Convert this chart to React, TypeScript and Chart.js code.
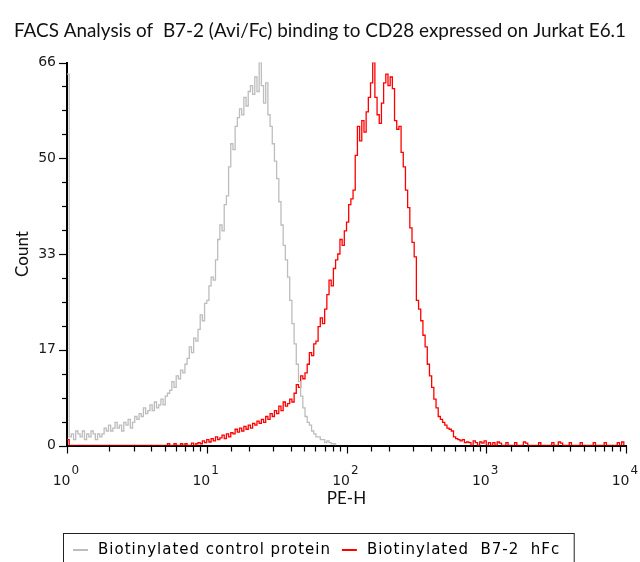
import React, { useEffect, useRef } from 'react';
import { Chart, registerables } from 'chart.js';

Chart.register(...registerables);

const TITLE = 'FACS Analysis of  B7-2 (Avi/Fc) binding to CD28 expressed on Jurkat E6.1';
const X_AXIS_TITLE = 'PE-H';
const Y_AXIS_TITLE = 'Count';
const SERIES_LABELS = ['Biotinylated control protein', 'Biotinylated  B7-2  hFc'];
const SERIES_COLORS = ['#bdbdbd', '#ff0000'];
const X_DECADE_EXPONENTS = [0, 1, 2, 3, 4];
const Y_MAJOR_VALUES = [0, 16.5, 33, 49.5, 66];
const Y_MAJOR_LABELS = ['0', '17', '33', '50', '66'];
const Y_MINOR_PER_MAJOR = 4;
const CHANNELS_PER_DECADE = 64;

// Counts per histogram channel (channel 0 = 10^0), control protein
const CONTROL_COUNTS = [
  64,
  1.5, 2, 1, 2.5, 2, 1.5, 2.5, 1, 2, 1.5, 2.5, 2, 1, 2, 1.5,
  2, 3, 2.5, 3.5, 2.5, 3, 4, 3, 3.5, 2.5, 4, 3.5, 4.5, 3, 4, 5,
  4.5, 5.5, 5, 6.5, 5.5, 6, 7, 6, 7.5, 6.5, 7, 8, 7, 8.5, 9,
  9.5, 11, 10, 12, 11.5, 13, 12.5, 14,
  15, 17, 16, 18.5, 18,
  20, 22.5, 21.5, 24.5, 25,
  27.5, 29, 28.5, 32,
  35.5, 38, 37, 41.5, 43,
  48, 52, 51, 55,
  56.5, 58, 57, 60, 58.5, 61,
  62, 60.5, 63.5, 61, 66,
  62, 59, 62.5, 57,
  55, 52, 49, 46, 42, 38, 34.5, 32, 29, 25, 21, 17.5, 14, 11, 8.5, 6.5, 5, 4, 3.5, 2.5,
  2, 1.5, 1.5, 1, 1, 0.5, 0.8, 0.5, 0.3, 0.3, 0,
];

// Counts per histogram channel, biotinylated B7-2 hFc
const B72_COUNTS = [
  1,
  0, 0, 0, 0, 0, 0, 0, 0, 0, 0, 0,
  0, 0, 0, 0, 0, 0, 0, 0, 0, 0, 0,
  0, 0, 0, 0, 0, 0, 0, 0, 0, 0, 0,
  0, 0, 0, 0, 0, 0, 0, 0, 0, 0, 0,
  0, 0.3, 0, 0, 0.3, 0, 0, 0.3, 0, 0.3, 0, 0, 0.4, 0, 0.3,
  0.5, 0.3, 0.8, 0.5, 1, 0.6, 1.2, 0.8, 1.5, 1, 1.3, 1.8, 1.2, 2, 1.5, 2.2,
  2, 2.8, 2.3, 3, 2.5, 3.3, 2.8, 3.5, 3, 3.8,
  3.5, 4.2, 3.8, 4.5, 4, 5, 4.5, 5.5, 5, 6,
  5.5, 6.8, 6, 7.5, 6.8, 7.2, 8, 7.5, 9,
  10.5, 10, 12, 11.5, 12.5, 14,
  16, 15.5, 17.5, 18,
  20.5, 22, 21, 23.5,
  26, 28.5, 27.5, 30.5, 32,
  33, 35.5, 34.5, 37, 38.5,
  41.5, 42.5, 44,
  50, 55, 52.5, 56, 54, 57.5,
  60, 62.5, 66,
  60, 57, 55.5, 59,
  62.5, 64, 62, 63.5, 61.5,
  56, 54.5, 55,
  50.5, 48, 44,
  41, 37.5,
  35, 32.5,
  25, 23.5,
  21.5, 19, 17,
  14, 12, 10,
  8, 6.5, 5,
  4.5, 4, 3.5, 3, 2.8, 2.5,
  1.5, 1.2, 1, 0.8, 1, 0.5, 0.6,
  0.5, 0, 0.8, 0.5, 0, 0.6, 0.4, 0.8, 0, 0.5,
  0, 0.5, 0, 0.6, 0.4, 0, 0, 0.5, 0, 0,
  0, 0.5, 0, 0, 0, 0.6, 0.4, 0, 0, 0,
  0, 0, 0.5, 0, 0, 0, 0, 0, 0.5, 0,
  0, 0.6, 0.4, 0, 0, 0, 0.5, 0, 0, 0,
  0, 0.5, 0, 0, 0, 0, 0, 0.5, 0, 0,
  0, 0, 0.5, 0, 0, 0, 0, 0, 0.5, 0, 0.6, 0,
];

const toPoints = (counts: number[]) =>
  counts.map((y, ch) => ({ x: Math.pow(10, ch / CHANNELS_PER_DECADE), y }));

const decorPlugin = {
  id: 'facsDecor',
  afterDraw(chart: any) {
    const { ctx, chartArea, scales } = chart;
    const xs = scales.x;
    const ys = scales.y;
    ctx.save();
    ctx.strokeStyle = '#000';
    ctx.lineWidth = 1.2;
    // y tick marks (major + minor)
    ys.ticks.forEach((t: any, i: number) => {
      const py = Math.round(ys.getPixelForValue(t.value)) + 0.5;
      const len = i % Y_MINOR_PER_MAJOR === 0 ? 7 : 4;
      ctx.beginPath();
      ctx.moveTo(chartArea.left - 1 - len, py);
      ctx.lineTo(chartArea.left, py);
      ctx.stroke();
    });
    // x tick marks
    xs.ticks.forEach((t: any) => {
      const px = Math.round(xs.getPixelForValue(t.value)) + 0.5;
      const e = Math.log10(t.value);
      const major = Math.abs(e - Math.round(e)) < 1e-6;
      const len = major ? 7 : 5;
      ctx.beginPath();
      ctx.moveTo(px, chartArea.bottom);
      ctx.lineTo(px, chartArea.bottom + 1 + len);
      ctx.stroke();
    });
    // x decade labels 10^n
    ctx.fillStyle = '#1a1a1a';
    ctx.textBaseline = 'alphabetic';
    X_DECADE_EXPONENTS.forEach((e) => {
      const px = xs.getPixelForValue(Math.pow(10, e));
      ctx.font = '14px "DejaVu Sans"';
      ctx.textAlign = 'right';
      ctx.fillText('10', px + 3.5, 485);
      ctx.font = '12px "DejaVu Sans"';
      ctx.textAlign = 'left';
      ctx.fillText(String(e), px + 4.5, 474);
    });
    // legend
    const boxL = 63.5;
    const boxT = 533.5;
    const midY = 550;
    let x = 73;
    ctx.font = '15px "DejaVu Sans"';
    (ctx as any).letterSpacing = '1px';
    SERIES_LABELS.forEach((label, i) => {
      ctx.strokeStyle = SERIES_COLORS[i];
      ctx.lineWidth = 2;
      ctx.beginPath();
      ctx.moveTo(x, midY);
      ctx.lineTo(x + 15, midY);
      ctx.stroke();
      x += 15 + 10;
      ctx.fillStyle = '#000';
      ctx.textAlign = 'left';
      ctx.textBaseline = 'middle';
      ctx.fillText(label, x, midY);
      x += ctx.measureText(label).width + 11;
    });
    (ctx as any).letterSpacing = '0px';
    const boxR = x - 11 + 14;
    ctx.strokeStyle = '#222';
    ctx.lineWidth = 1;
    ctx.strokeRect(boxL, boxT, boxR - boxL, 40);
    ctx.restore();
  },
};

export default function App() {
  const canvasRef = useRef<HTMLCanvasElement | null>(null);

  useEffect(() => {
    if (!canvasRef.current) return;
    const chart = new Chart(canvasRef.current, {
      type: 'line',
      data: {
        datasets: [
          {
            label: SERIES_LABELS[0],
            data: toPoints(CONTROL_COUNTS),
            borderColor: SERIES_COLORS[0],
            borderWidth: 1.3,
            pointRadius: 0,
            stepped: true,
            fill: false,
          },
          {
            label: SERIES_LABELS[1],
            data: toPoints(B72_COUNTS),
            borderColor: SERIES_COLORS[1],
            borderWidth: 1.3,
            pointRadius: 0,
            stepped: true,
            fill: false,
          },
        ],
      },
      options: {
        animation: false,
        responsive: true,
        maintainAspectRatio: false,
        layout: { padding: { left: 14, right: 14, top: 0, bottom: 0 } },
        plugins: {
          legend: { display: false },
          tooltip: { enabled: false },
          title: {
            display: true,
            text: TITLE,
            color: '#111',
            font: { family: 'Lato', size: 19, weight: 'normal' },
            padding: { top: 19.6, bottom: 20.1 },
          },
        },
        scales: {
          x: {
            type: 'logarithmic',
            min: Math.pow(10, X_DECADE_EXPONENTS[0]),
            max: Math.pow(10, X_DECADE_EXPONENTS[X_DECADE_EXPONENTS.length - 1]),
            grid: { display: true, drawOnChartArea: false, drawTicks: false },
            border: { display: true, color: '#000', width: 2 },
            ticks: { display: false },
            title: {
              display: true,
              text: X_AXIS_TITLE,
              color: '#111',
              font: { family: 'Lato', size: 17, weight: 'normal' },
              padding: { top: 0, bottom: 52.8 },
            },
            afterFit: (scale: any) => {
              scale.height = 116.5;
            },
          },
          y: {
            type: 'linear',
            min: Y_MAJOR_VALUES[0],
            max: Y_MAJOR_VALUES[Y_MAJOR_VALUES.length - 1],
            grid: { display: true, drawOnChartArea: false, drawTicks: false },
            border: { display: true, color: '#000', width: 2 },
            ticks: {
              stepSize: (Y_MAJOR_VALUES[1] - Y_MAJOR_VALUES[0]) / Y_MINOR_PER_MAJOR,
              autoSkip: false,
              padding: 11,
              color: '#1a1a1a',
              font: { family: 'DejaVu Sans', size: 14 },
              callback: (value: any) => {
                const idx = Y_MAJOR_VALUES.findIndex((v) => Math.abs(v - Number(value)) < 1e-6);
                return idx >= 0 ? Y_MAJOR_LABELS[idx] : '';
              },
            },
            title: {
              display: true,
              text: Y_AXIS_TITLE,
              color: '#111',
              font: { family: 'Lato', size: 17, weight: 'normal', lineHeight: 1.0 },
              padding: { top: 0, bottom: 0 },
            },
            afterFit: (scale: any) => {
              scale.width = 53;
            },
          },
        },
      },
      plugins: [decorPlugin],
    });
    return () => chart.destroy();
  }, []);

  return (
    <div style={{ position: 'absolute', left: 0, top: 0, width: 640, height: 562 }}>
      <canvas ref={canvasRef} />
    </div>
  );
}
